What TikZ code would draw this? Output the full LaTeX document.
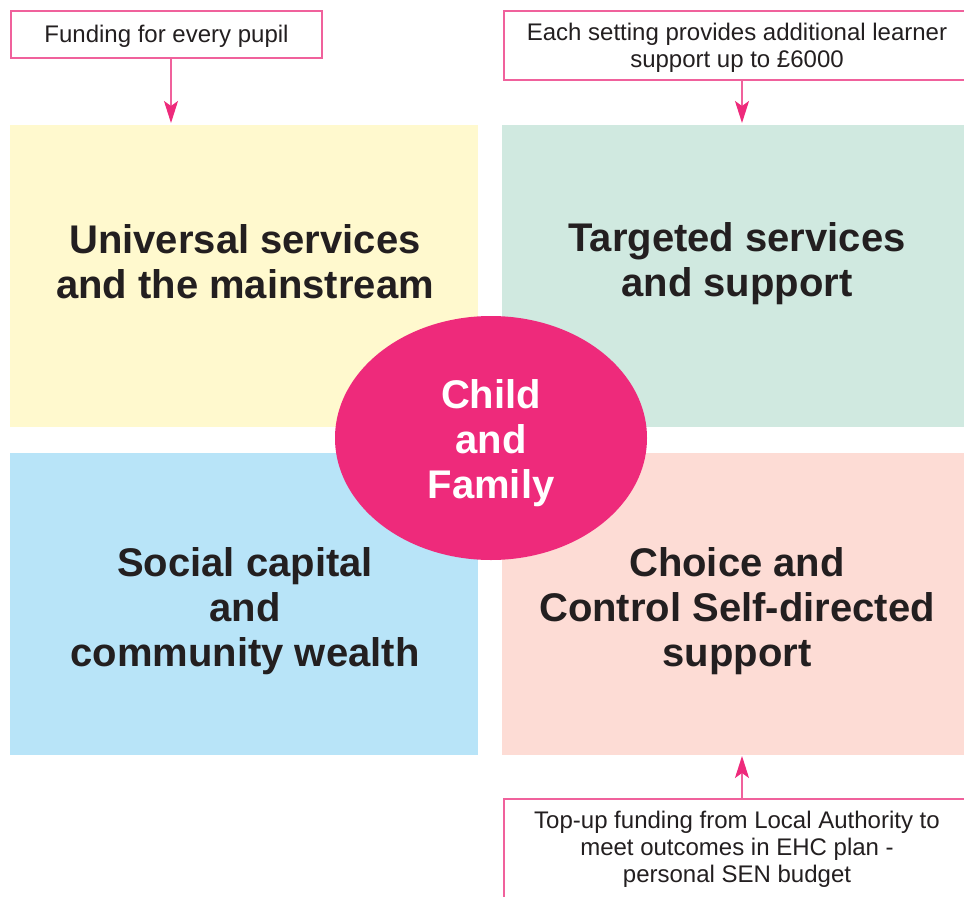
\documentclass[tikz,border=0pt]{standalone}
\usepackage{fontspec}
\setmainfont{Liberation Sans}
\usetikzlibrary{shapes.geometric,arrows.meta}
\definecolor{yel}{HTML}{FFF9CE}
\definecolor{grn}{HTML}{D0E9E0}
\definecolor{blu}{HTML}{B8E4F8}
\definecolor{pnk}{HTML}{FDDCD5}
\definecolor{mag}{HTML}{EE2A7B}
\definecolor{bord}{HTML}{F0619C}
\definecolor{ink}{HTML}{231F20}
\tikzset{
  quad/.style={rectangle, inner sep=0pt, outer sep=0pt, draw=none},
  big/.style={text=ink, align=center, font=\fontsize{40}{45}\selectfont\bfseries, inner sep=0pt},
  small/.style={text=ink, align=center, font=\fontsize{24}{27}\selectfont, inner sep=0pt},
  lbl/.style={rectangle, draw=bord, line width=1.5pt, fill=white, inner sep=0pt, outer sep=0pt},
  feed/.style={draw=bord, line width=1.5pt, -{Stealth[length=22pt,width=14pt,inset=5pt,color=mag]}},
}
\begin{document}
\begin{tikzpicture}[x=1pt,y=-1pt]
\clip (0,0) rectangle (964,897);
\fill[white] (0,0) rectangle (964,897);
% quadrants
\node[quad, fill=yel, minimum width=468pt, minimum height=302pt] (univ) at (244,276) {};
\node[quad, fill=grn, minimum width=462pt, minimum height=302pt] (targ) at (733,276) {};
\node[quad, fill=blu, minimum width=468pt, minimum height=302pt] (soc) at (244,604) {};
\node[quad, fill=pnk, minimum width=462pt, minimum height=302pt] (choice) at (733,604) {};
% quadrant texts
\node[big] (tuniv) at (245,262) {Universal services\\and the mainstream};
\node[big] (ttarg) at (737,264) {Targeted services\\and support};
\node[big] (tsoc) at (245,611) {Social capital\\and\\community wealth};
\node[big] (tchoice) at (737,611) {Choice and\\Control Self-directed\\support};
% centre
\node[ellipse, fill=mag, minimum width=312pt, minimum height=244pt, inner sep=0pt] (child) at (491,438) {};
\node[big, text=white] (tchild) at (491,443) {Child\\and\\Family};
% label boxes
\node[lbl, minimum width=311pt, minimum height=47pt] (fund) at (166.5,34.5) {};
\node[small] (tfund) at (166.5,36) {Funding for every pupil};
\node[lbl, minimum width=480pt, minimum height=69pt] (each) at (744,45.5) {};
\node[small] (teach) at (737,48) {Each setting provides additional learner\\support up to £6000};
\node[lbl, minimum width=480pt, minimum height=140pt] (topup) at (744,869) {};
\node[small] (ttopup) at (737,849) {Top-up funding from Local Authority to\\meet outcomes in EHC plan -\\personal SEN budget};
% arrows
\coordinate (a1) at (171,123);
\coordinate (a2) at (742,123);
\coordinate (a3) at (742,756);
\draw[feed] (fund.south -| a1) -- (a1);
\draw[feed] (each.south -| a2) -- (a2);
\draw[feed] (topup.north -| a3) -- (a3);
\end{tikzpicture}
\end{document}
